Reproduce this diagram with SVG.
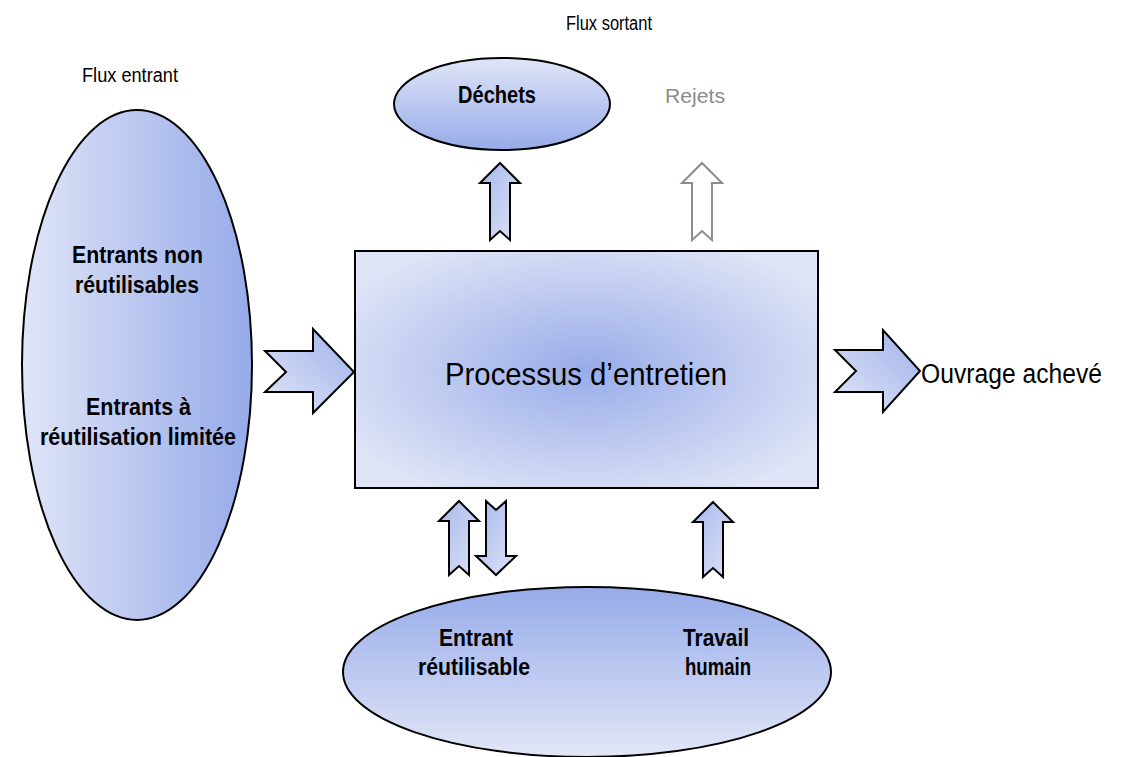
<svg xmlns="http://www.w3.org/2000/svg" width="1130" height="757" viewBox="0 0 1130 757">
<defs>
<linearGradient id="gH" x1="0" y1="0" x2="1" y2="0"><stop offset="0" stop-color="#e0e5f7"/><stop offset="1" stop-color="#95aae9"/></linearGradient>
<linearGradient id="gDown" x1="0" y1="0" x2="0" y2="1"><stop offset="0" stop-color="#e0e5f7"/><stop offset="1" stop-color="#96abe9"/></linearGradient>
<linearGradient id="gUp" x1="0" y1="0" x2="0" y2="1"><stop offset="0" stop-color="#96abe9"/><stop offset="1" stop-color="#e2e6f7"/></linearGradient>
<radialGradient id="gR" cx="0.5" cy="0.5" r="0.6"><stop offset="0" stop-color="#98ace9"/><stop offset="1" stop-color="#dfe4f6"/></radialGradient>
<linearGradient id="gA" x1="0" y1="1" x2="1" y2="0"><stop offset="0" stop-color="#e0e5f7"/><stop offset="1" stop-color="#9fb2ea"/></linearGradient>
<linearGradient id="gAv" x1="0" y1="0" x2="1" y2="1"><stop offset="0" stop-color="#a7b8ec"/><stop offset="1" stop-color="#dde3f6"/></linearGradient>
</defs>
<style>
.shape{stroke:#000;stroke-width:2}
.arr{stroke:#000;stroke-width:2;stroke-linejoin:miter}
.lbl{font-family:"Liberation Sans",Arial,sans-serif;font-size:20px;fill:#000;text-anchor:middle}
.b{font-family:"Liberation Sans",Arial,sans-serif;font-size:24px;font-weight:bold;fill:#000;text-anchor:middle}
</style>
<text class="lbl" x="130" y="82" textLength="96" lengthAdjust="spacingAndGlyphs">Flux entrant</text>
<text class="lbl" x="609" y="30" textLength="86" lengthAdjust="spacingAndGlyphs">Flux sortant</text>
<g id="entrants">
<ellipse class="shape" cx="137" cy="365" rx="115" ry="255" fill="url(#gH)"/>
<text class="b" x="137.5" y="263" textLength="131" lengthAdjust="spacingAndGlyphs">Entrants non</text>
<text class="b" x="137" y="293" textLength="124" lengthAdjust="spacingAndGlyphs">réutilisables</text>
<text class="b" x="138.5" y="415" textLength="105" lengthAdjust="spacingAndGlyphs">Entrants à</text>
<text class="b" x="138" y="445" textLength="196" lengthAdjust="spacingAndGlyphs">réutilisation limitée</text>
</g>
<g id="dechets">
<ellipse class="shape" cx="502" cy="104" rx="108" ry="46" fill="url(#gDown)"/>
<text class="b" x="497" y="103" textLength="78" lengthAdjust="spacingAndGlyphs">Déchets</text>
</g>
<g id="rejets">
<text class="lbl" x="695" y="103" textLength="60" lengthAdjust="spacingAndGlyphs" style="fill:#8c8c8c">Rejets</text>
</g>
<g id="processus">
<rect class="shape" x="355" y="251" width="463" height="237" fill="url(#gR)"/>
<text x="586" y="385" text-anchor="middle" textLength="282" lengthAdjust="spacingAndGlyphs" style="font-family:'Liberation Sans',Arial,sans-serif;font-size:32px;fill:#000">Processus d’entretien</text>
</g>
<g id="ouvrage">
<text x="921" y="383" textLength="181" lengthAdjust="spacingAndGlyphs" style="font-family:'Liberation Sans',Arial,sans-serif;font-size:27px;fill:#000">Ouvrage achevé</text>
</g>
<g id="bas">
<ellipse class="shape" cx="587" cy="672" rx="244" ry="85" fill="url(#gUp)"/>
<text class="b" x="476" y="646" textLength="74" lengthAdjust="spacingAndGlyphs">Entrant</text>
<text class="b" x="474" y="675" textLength="112" lengthAdjust="spacingAndGlyphs">réutilisable</text>
<text class="b" x="716" y="646" textLength="66" lengthAdjust="spacingAndGlyphs">Travail</text>
<text class="b" x="718" y="675" textLength="66" lengthAdjust="spacingAndGlyphs">humain</text>
</g>
<g id="connectors">
<path class="arr" fill="url(#gA)" d="M265,351 L313,351 L313,329 L354,372 L313,413 L313,392 L265,392 L286,372 Z"/>
<path class="arr" fill="url(#gA)" d="M835,350 L883,350 L883,330 L920,371 L883,412 L883,392 L835,392 L856,371 Z"/>
<path class="arr" fill="url(#gAv)" d="M500,163 L520,183 L510,183 L510,240 L500,231 L490,240 L490,183 L480,183 Z"/>
<path fill="#fff" stroke="#8c8c8c" stroke-width="2" d="M702,163 L722,183 L712,183 L712,240 L702,231 L692,240 L692,183 L682,183 Z"/>
<path class="arr" fill="url(#gAv)" d="M459,501 L479,521 L469,521 L469,575 L459,566 L449,575 L449,521 L439,521 Z"/>
<path class="arr" fill="url(#gAv)" d="M486,501 L496,510 L506,501 L506,556 L516,556 L496,575 L476,556 L486,556 Z"/>
<path class="arr" fill="url(#gAv)" d="M713,502 L733,522 L723,522 L723,577 L713,568 L703,577 L703,522 L693,522 Z"/>
</g>
</svg>
